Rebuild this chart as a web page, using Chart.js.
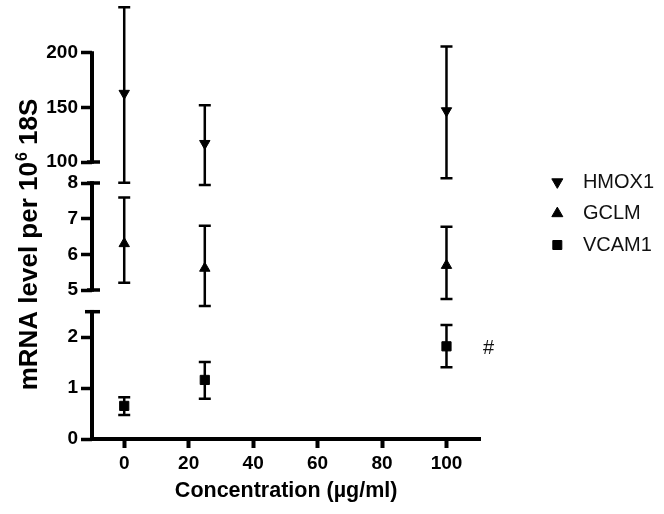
<!DOCTYPE html>
<html>
<head>
<meta charset="utf-8">
<script src="https://cdn.jsdelivr.net/npm/chart.js@4/dist/chart.umd.min.js"></script>
<style>
html,body{margin:0;padding:0;background:#fff;}
#wrap{width:664px;height:514px;}
</style>
</head>
<body>
<div id="wrap"><canvas id="c" width="664" height="514"></canvas></div>
<script>
// ---- data ----
const concentrations = [0, 25, 100];
const seriesNames = ['HMOX1', 'GCLM', 'VCAM1'];
const hmox1Mean = [163, 117, 147];
const hmox1Low  = [81, 79, 85];
const hmox1High = [242, 152, 206];
const gclmMean  = [6.3, 5.61, 5.69];
const gclmLow   = [5.2, 4.55, 4.75];
const gclmHigh  = [7.59, 6.8, 6.77];
const vcam1Mean = [0.65, 1.16, 1.82];
const vcam1Low  = [0.47, 0.79, 1.41];
const vcam1High = [0.82, 1.51, 2.24];
const xTicks   = [0, 20, 40, 60, 80, 100];
const topTicks = [100, 150, 200];
const midTicks = [5, 6, 7, 8];
const botTicks = [0, 1, 2];
const topSegment = [100, 200];
const midSegment = [5, 8];
const botSegment = [0, 2.5];
const xTitle = 'Concentration (µg/ml)';
const yTitleMain = 'mRNA level per 10';
const yTitleSup = '6';
const yTitleTail = ' 18S';
const markText = '#';
const markSeries = 2, markIndex = 2;

// ---- layout helpers: pixel anchors of each axis segment inside its stacked box ----
const FONT = "'Liberation Sans', Arial, Helvetica, sans-serif";
const boxEdges = [0, 172.5, 300, 439];   // top of area, two breaks, bottom of area
function fitRange(vHi, pHi, vLo, pLo, boxTop, boxBottom) {
  const k = (pLo - pHi) / (vHi - vLo);
  return { min: vLo - (boxBottom - pLo) / k, max: vHi + (pHi - boxTop) / k, weight: boxBottom - boxTop };
}
const topRange = fitRange(200, 53, 100, 162, boxEdges[0], boxEdges[1]);
const midRange = fitRange(8, 183, 5, 290, boxEdges[1], boxEdges[2]);
const botRange = fitRange(2.5, 311.7, 0, 439, boxEdges[2], boxEdges[3]);

const tickFont = { family: FONT, size: 19, weight: 'bold' };

function yScale(range, ticks) {
  return {
    type: 'linear', position: 'left', stack: 'left', stackWeight: range.weight, weight: 0,
    min: range.min, max: range.max,
    afterBuildTicks: s => { s.ticks = ticks.map(v => ({ value: v })); },
    afterFit: s => { s.width = 92; s.paddingTop = 0; s.paddingBottom = 0; },
    border: { display: false },
    grid: { display: true, drawOnChartArea: false, drawTicks: true, tickLength: 11, tickWidth: 3.5, tickColor: '#000' },
    ticks: { font: tickFont, color: '#000', padding: 3, autoSkip: false, callback: v => String(v) }
  };
}

function makeSet(label, means, lows, highs, axis, style, rotation, radius) {
  return {
    label: label,
    data: concentrations.map((x, i) => ({ x: x, y: means[i] })),
    errLow: lows, errHigh: highs,
    xAxisID: 'x', yAxisID: axis,
    pointStyle: style, rotation: rotation,
    pointRadius: radius, pointHoverRadius: radius,
    backgroundColor: '#000', borderColor: '#000', borderWidth: 1,
    showLine: false, clip: false
  };
}

const errorBarPlugin = {
  id: 'errorBars',
  beforeDatasetsDraw(chart) {
    const ctx = chart.ctx;
    ctx.save();
    ctx.strokeStyle = '#000';
    ctx.lineWidth = 2.5;
    chart.data.datasets.forEach((ds, di) => {
      const meta = chart.getDatasetMeta(di);
      const xs = chart.scales[meta.xAxisID], ys = chart.scales[meta.yAxisID];
      ds.data.forEach((p, i) => {
        const x = xs.getPixelForValue(p.x);
        const y1 = ys.getPixelForValue(ds.errLow[i]);
        const y2 = ys.getPixelForValue(ds.errHigh[i]);
        ctx.beginPath();
        ctx.moveTo(x, y1); ctx.lineTo(x, y2);
        ctx.moveTo(x - 6, y1); ctx.lineTo(x + 6, y1);
        ctx.moveTo(x - 6, y2); ctx.lineTo(x + 6, y2);
        ctx.stroke();
      });
    });
    ctx.restore();
  }
};

const brokenAxisPlugin = {
  id: 'brokenAxis',
  afterDraw(chart) {
    const ctx = chart.ctx;
    const x = chart.chartArea.left;
    const segs = [
      { s: chart.scales.yTop, seg: topSegment, capLo: true, capHi: false, leftHi: false },
      { s: chart.scales.yMid, seg: midSegment, capLo: true, capHi: true, leftHi: false },
      { s: chart.scales.yBot, seg: botSegment, capLo: false, capHi: true, leftHi: true }
    ];
    ctx.save();
    ctx.strokeStyle = '#000';
    segs.forEach(o => {
      const yLo = o.s.getPixelForValue(o.seg[0]);
      const yHi = o.s.getPixelForValue(o.seg[1]);
      ctx.lineWidth = 4;
      ctx.beginPath();
      ctx.moveTo(x, yLo + 1.75); ctx.lineTo(x, yHi - 1.75);
      ctx.stroke();
      ctx.lineWidth = 3.5;
      ctx.beginPath();
      if (o.capLo) { ctx.moveTo(x - 5, yLo); ctx.lineTo(x + 8, yLo); }
      if (o.capHi) { ctx.moveTo(o.leftHi ? x - 7 : x - 5, yHi); ctx.lineTo(x + 8, yHi); }
      ctx.stroke();
    });
    // "#" mark next to a point
    const meta = chart.getDatasetMeta(markSeries);
    const pt = meta.data[markIndex];
    ctx.fillStyle = '#111';
    ctx.font = '20px ' + FONT;
    ctx.textAlign = 'center';
    ctx.textBaseline = 'middle';
    ctx.fillText(markText, pt.x + 42, pt.y + 2);
    // rotated y title with superscript
    const big = 'bold 26px ' + FONT, small = 'bold 16px ' + FONT;
    ctx.font = big; const w1 = ctx.measureText(yTitleMain).width; const w3 = ctx.measureText(yTitleTail).width;
    ctx.font = small; const w2 = ctx.measureText(yTitleSup).width;
    const total = w1 + w2 + w3;
    ctx.translate(37, 245);
    ctx.rotate(-Math.PI / 2);
    ctx.textAlign = 'left';
    ctx.textBaseline = 'alphabetic';
    ctx.fillStyle = '#000';
    let cx = -total / 2;
    ctx.font = big; ctx.fillText(yTitleMain, cx, 0); cx += w1 + 1;
    ctx.font = small; ctx.fillText(yTitleSup, cx, -10); cx += w2;
    ctx.font = big; ctx.fillText(yTitleTail, cx, 0);
    ctx.restore();
  }
};

new Chart(document.getElementById('c'), {
  type: 'scatter',
  data: {
    datasets: [
      makeSet(seriesNames[0], hmox1Mean, hmox1Low, hmox1High, 'yTop', 'triangle', 180, 6),
      makeSet(seriesNames[1], gclmMean, gclmLow, gclmHigh, 'yMid', 'triangle', 0, 6),
      makeSet(seriesNames[2], vcam1Mean, vcam1Low, vcam1High, 'yBot', 'rect', 0, 6.5)
    ]
  },
  options: {
    responsive: false,
    animation: false,
    devicePixelRatio: 1,
    events: [],
    layout: { autoPadding: false, padding: { top: 0, left: 0, bottom: 0, right: 0 } },
    scales: {
      x: {
        type: 'linear', position: 'bottom', min: -10, max: 110.5,
        afterBuildTicks: s => { s.ticks = xTicks.map(v => ({ value: v })); },
        afterFit: s => { s.height = 75; s.paddingLeft = 0; s.paddingRight = 0; },
        border: { display: true, color: '#000', width: 4 },
        grid: { display: true, drawOnChartArea: false, drawTicks: true, tickLength: 9, tickWidth: 4, tickColor: '#000' },
        ticks: { font: tickFont, color: '#000', padding: 4, maxRotation: 0, autoSkip: false, callback: v => String(v) },
        title: { display: true, text: xTitle, color: '#000', font: { family: FONT, size: 21.5, weight: 'bold' }, padding: { top: 0, bottom: 10 } }
      },
      yBot: yScale(botRange, botTicks),
      yMid: yScale(midRange, midTicks),
      yTop: yScale(topRange, topTicks),
      gap: {
        type: 'linear', position: 'right', weight: 0, display: true,
        afterFit: s => { s.width = 55.5; s.paddingTop = 0; s.paddingBottom = 0; },
        grid: { display: false }, border: { display: false }, ticks: { display: false }
      }
    },
    plugins: {
      tooltip: { enabled: false },
      legend: {
        position: 'right', align: 'start', maxWidth: 300,
        title: { display: true, text: ' ', font: { size: 10 }, padding: { top: 0, bottom: 148.5 } },
        labels: {
          usePointStyle: true, boxWidth: 20, boxHeight: 9, padding: 11.5,
          color: '#111', font: { family: FONT, size: 20 },
          generateLabels(chart) {
            const items = Chart.defaults.plugins.legend.labels.generateLabels(chart);
            items.forEach(it => { it.text = ' ' + it.text; });
            return items;
          }
        }
      }
    }
  },
  plugins: [errorBarPlugin, brokenAxisPlugin]
});
</script>
</body>
</html>
